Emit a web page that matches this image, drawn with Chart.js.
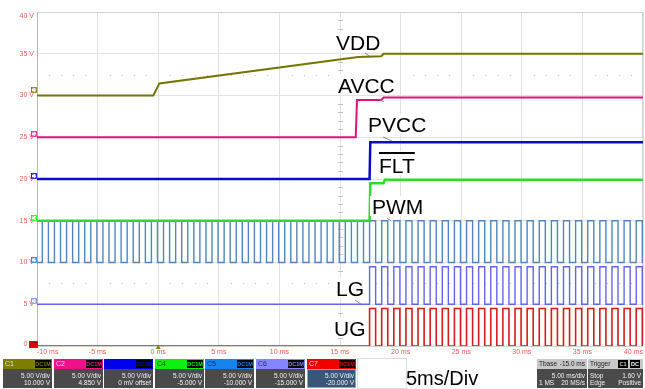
<!DOCTYPE html>
<html>
<head>
<meta charset="utf-8">
<script src="https://cdn.jsdelivr.net/npm/chart.js@4/dist/chart.umd.min.js"></script>
<style>
  html, body { margin: 0; padding: 0; background: #ffffff; overflow: hidden; }
  #wrap { position: relative; width: 645px; height: 389px; }
</style>
</head>
<body>
<div id="wrap"><canvas id="scope" width="645" height="389"></canvas></div>
<script>
// ---- axes ----
const timeRangeMs = [-10, 40];
const voltRange = [0, 40];
const timeTickStepMs = 5;
const voltTickStep = 5;

// ---- supply rails (time in ms, level in V) ----
const vddTimeMs  = [-10, -0.4, 0.1, 16.5, 18.4, 18.6, 40];
const vddVolts   = [30, 30, 31.45, 34.6, 34.7, 35.0, 35.0];

const avccTimeMs = [-10, 16.3, 16.4, 18.4, 18.6, 40];
const avccVolts  = [25, 25, 29.45, 29.45, 29.75, 29.75];

const pvccTimeMs = [-10, 17.44, 17.5, 40];
const pvccVolts  = [20, 20, 24.4, 24.4];

const fltTimeMs  = [-10, 17.44, 17.5, 18.6, 18.7, 40];
const fltVolts   = [15, 15, 19.5, 19.5, 19.9, 19.9];

// ---- PWM edge times (ms): rising, falling, rising, ... ----
const pwmEdgesMs = [
  -9.56, -9.06, -8.56, -8.06, -7.56, -7.06, -6.56, -6.06, -5.56, -5.06,
  -4.56, -4.06, -3.56, -3.06, -2.56, -2.06, -1.56, -1.06, -0.56, -0.06,
   0.44,  0.94,  1.44,  1.94,  2.44,  2.94,  3.44,  3.94,  4.44,  4.94,
   5.44,  5.94,  6.44,  6.94,  7.44,  7.94,  8.44,  8.94,  9.44,  9.94,
  10.44, 10.94, 11.44, 11.94, 12.44, 12.94, 13.44, 13.94, 14.44, 14.94,
  15.44, 15.94, 16.44, 16.94, 17.44, 17.94, 18.44, 18.94, 19.44, 19.94,
  20.44, 20.94, 21.44, 21.94, 22.44, 22.94, 23.44, 23.94, 24.44, 24.94,
  25.44, 25.94, 26.44, 26.94, 27.44, 27.94, 28.44, 28.94, 29.44, 29.94,
  30.44, 30.94, 31.44, 31.94, 32.44, 32.94, 33.44, 33.94, 34.44, 34.94,
  35.44, 35.94, 36.44, 36.94, 37.44, 37.94, 38.44, 38.94, 39.44, 39.94
];
// [low, high] levels in V
const pwmLevels = [10, 15];
const lgLevels  = [5, 9.5];
const ugLevels  = [0, 4.5];
// gate drivers start switching here (ms)
const gateStartMs = 17.44;

// ---- channel readouts ----
const chNames    = ['C1', 'C2', 'C3', 'C4', 'C5', 'C6', 'C7'];
const chScale    = ['5.00 V/div', '5.00 V/div', '5.00 V/div', '5.00 V/div', '5.00 V/div', '5.00 V/div', '5.00 V/div'];
const chOffset   = ['10.000 V', '4.850 V', '0 mV offset', '-5.000 V', '-10.000 V', '-15.000 V', '-20.000 V'];
const chMarkerV  = [30.3, 25, 20, 15, 10, 5, 0];
const chColors   = ['#7d7d00', '#f0108c', '#0000f0', '#10f010', '#1684f0', '#8585ff', '#f00000'];

// ---- trace colours ----
const C = {
  vdd: '#757500', avcc: '#e2127a', pvcc: '#0c0cc4', flt: '#2bdc2b',
  pwm: '#4f86c0', lg: '#6464f2', ug: '#d61c1c'
};

function pairs(ts, vs) { return ts.map((t, i) => ({ x: t, y: vs[i] })); }

// step trace from edge list: starts low, toggles at each edge from startMs on
function squareTrace(edges, levels, startMs) {
  const [lo, hi] = levels;
  const pts = [{ x: timeRangeMs[0], y: lo }];
  let level = lo;
  edges.forEach((t, i) => {
    if (t < startMs - 1e-6) return;
    const next = (i % 2 === 0) ? hi : lo;
    pts.push({ x: t, y: level });
    pts.push({ x: t, y: next });
    level = next;
  });
  pts.push({ x: timeRangeMs[1], y: level });
  return pts;
}

const FONT = '"Liberation Sans", Arial, sans-serif';

function line(data, color, width) {
  return { data, borderColor: color, borderWidth: width, pointRadius: 0, tension: 0, fill: false, borderJoinStyle: 'miter', borderCapStyle: 'butt' };
}

// signal names drawn beside traces; anchor is (ms, V) of text baseline start
const traceLabels = [
  { text: 'VDD',  t: 14.67, v: 35.45, lead: [29, 3, 35, 7] },
  { text: 'AVCC', t: 14.83, v: 30.30, lead: [40, 6, 46, 9] },
  { text: 'PVCC', t: 17.31, v: 25.63, lead: [15, 5, 24, 9] },
  { text: 'FLT',  t: 18.22, v: 20.72, over: true },
  { text: 'PWM',  t: 17.64, v: 15.81, lead: [15, 4, 19, 7] },
  { text: 'LG',   t: 14.67, v: 5.99,  lead: [19, 4, 26, 9] },
  { text: 'UG',   t: 14.50, v: 1.20 }
];

const scopeDecor = {
  id: 'scopeDecor',
  beforeDatasetsDraw(chart) {
    const { ctx, chartArea: a, scales: { x, y } } = chart;
    ctx.save();
    // frame
    ctx.strokeStyle = '#d2d2d2';
    ctx.lineWidth = 1;
    ctx.strokeRect(a.left + 0.5, a.top + 0.5, a.right - a.left - 1, a.bottom - a.top);
    ctx.strokeStyle = '#b8b8b8';
    ctx.beginPath(); ctx.moveTo(a.left + 0.5, a.top); ctx.lineTo(a.left + 0.5, a.bottom); ctx.stroke();
    // ruler dots
    ctx.fillStyle = '#c4c4c4';
    [32.5, 7.5].forEach(v => {
      const py = Math.round(y.getPixelForValue(v));
      for (let t = -9; t < 40; t++) {
        if (t % 5 === 0) continue;
        ctx.fillRect(Math.round(x.getPixelForValue(t)), py, 1, 1);
      }
    });
    // centre time ruler with minor marks
    const cx = Math.round(x.getPixelForValue(15));
    for (let v = 1; v < 40; v++) {
      if (v % 5 === 0) continue;
      ctx.fillRect(cx - 2, Math.round(y.getPixelForValue(v)), 5, 1);
    }
    ctx.restore();
  },
  afterDatasetsDraw(chart) {
    const { ctx, chartArea: a, scales: { x, y } } = chart;
    ctx.save();
    // tick labels
    ctx.fillStyle = '#f25a5a';
    ctx.font = '7px ' + FONT;
    ctx.textBaseline = 'middle';
    ctx.textAlign = 'right';
    y.ticks.forEach(tk => {
      let py = y.getPixelForValue(tk.value);
      py = Math.min(Math.max(py, a.top + 4.5), a.bottom - 2);
      ctx.fillText(tk.value + ' V', a.left - 3, py);
    });
    x.ticks.forEach((tk, i) => {
      const px = x.getPixelForValue(tk.value);
      ctx.textAlign = i === 0 ? 'left' : (i === x.ticks.length - 1 ? 'right' : 'center');
      ctx.fillText(tk.value + ' ms', px, a.bottom + 6);
    });

    // trigger point marker
    const tx = x.getPixelForValue(0);
    ctx.fillStyle = '#7d7d00';
    ctx.beginPath();
    ctx.moveTo(tx - 2.5, a.bottom + 3); ctx.lineTo(tx + 2.5, a.bottom + 3); ctx.lineTo(tx, a.bottom - 1); ctx.closePath(); ctx.fill();

    // channel offset markers
    ctx.font = '5px ' + FONT;
    ctx.textAlign = 'center';
    chMarkerV.forEach((v, i) => {
      const py = Math.round(y.getPixelForValue(v));
      if (i === 6) {
        ctx.fillStyle = chColors[i];
        ctx.fillRect(a.left - 8, py - 5, 9, 7);
        ctx.fillStyle = '#300000';
        ctx.fillText(chNames[i], a.left - 3.5, py - 1.5);
      } else {
        ctx.fillStyle = '#ffffff';
        ctx.fillRect(a.left - 6, py - 6, 6, 6);
        ctx.strokeStyle = chColors[i];
        ctx.lineWidth = 0.8;
        ctx.strokeRect(a.left - 5.5, py - 5.5, 5, 5);
        ctx.fillStyle = chColors[i];
        ctx.fillText(chNames[i], a.left - 3, py - 2.5);
      }
    });

    // signal names
    ctx.font = '21px ' + FONT;
    ctx.textAlign = 'left';
    ctx.textBaseline = 'alphabetic';
    traceLabels.forEach(l => {
      const px = Math.round(x.getPixelForValue(l.t));
      const py = Math.round(y.getPixelForValue(l.v));
      const w = ctx.measureText(l.text).width;
      ctx.fillStyle = '#ffffff';
      ctx.fillRect(px - 2, py - (l.over ? 22 : 18), w + 4, (l.over ? 24 : 20));
      ctx.fillStyle = '#000000';
      ctx.fillText(l.text, px, py);
      if (l.over) ctx.fillRect(px, py - 21, w, 2);
      if (l.lead) {
        ctx.strokeStyle = '#707070';
        ctx.lineWidth = 0.8;
        ctx.beginPath();
        ctx.moveTo(px + l.lead[0], py + l.lead[1]);
        ctx.lineTo(px + l.lead[2], py + l.lead[3]);
        ctx.stroke();
      }
    });
    ctx.restore();
  },
  afterDraw(chart) {
    const { ctx } = chart;
    ctx.save();
    const top = 359, headH = 10, bodyBottom = 388;
    // channel descriptor boxes
    for (let i = 0; i < 7; i++) {
      const x0 = 3 + Math.round(i * 50.6), w = 49;
      ctx.fillStyle = chColors[i];
      ctx.fillRect(x0, top, w, headH);
      ctx.fillStyle = i === 6 ? '#3a5677' : '#4a4a4a';
      ctx.fillRect(x0, top + headH, w, bodyBottom - top - headH);
      if (i === 6) { ctx.strokeStyle = '#8aa8cc'; ctx.lineWidth = 1; ctx.strokeRect(x0 + 0.5, top + headH + 0.5, w - 1, bodyBottom - top - headH - 1); }
      // name
      ctx.font = '7px ' + FONT;
      ctx.textBaseline = 'middle';
      ctx.textAlign = 'left';
      ctx.fillStyle = ['#e8e8c0', '#ffd6ec', '#101070', '#0c500c', '#0c2c64', '#2a2a6a', '#ffe0e0'][i];
      ctx.fillText(chNames[i], x0 + 2, top + 5);
      // coupling badge
      ctx.fillStyle = '#000000';
      ctx.fillRect(x0 + w - 17, top + 1, 16, headH - 2);
      ctx.fillStyle = chColors[i];
      ctx.font = 'bold 5.5px ' + FONT;
      ctx.textAlign = 'center';
      ctx.fillText('DC1M', x0 + w - 9, top + 5);
      // readout
      ctx.fillStyle = '#f2f2f2';
      ctx.font = '6.5px ' + FONT;
      ctx.textAlign = 'right';
      ctx.textBaseline = 'alphabetic';
      ctx.fillText(chScale[i], x0 + w - 2, 378);
      ctx.fillText(chOffset[i], x0 + w - 2, 385);
    }
    // empty dotted slot
    ctx.strokeStyle = '#b8b8b8';
    ctx.setLineDash([1, 1]);
    ctx.lineWidth = 1;
    ctx.strokeRect(357.5, 358.5, 49, 30);
    ctx.setLineDash([]);
    // sweep caption
    ctx.fillStyle = '#000000';
    ctx.font = '20px ' + FONT;
    ctx.textAlign = 'left';
    ctx.fillText('5ms/Div', 406, 385);

    // timebase box
    const tb = 537, tw = 50, tr = 588, trw = 55;
    ctx.fillStyle = '#c8c8c8';
    ctx.fillRect(tb, top, tw, headH);
    ctx.fillRect(tr, top, trw, headH);
    ctx.fillStyle = '#4a4a4a';
    ctx.fillRect(tb, top + headH, tw, bodyBottom - top - headH);
    ctx.fillRect(tr, top + headH, trw, bodyBottom - top - headH);
    ctx.font = '6.5px ' + FONT;
    ctx.textBaseline = 'middle';
    ctx.fillStyle = '#202020';
    ctx.textAlign = 'left';
    ctx.fillText('Tbase', tb + 2, top + 5);
    ctx.textAlign = 'right';
    ctx.fillText('-15.0 ms', tb + tw - 2, top + 5);
    ctx.textAlign = 'left';
    ctx.fillText('Trigger', tr + 2, top + 5);
    ctx.fillStyle = '#000000';
    ctx.fillRect(tr + 30, top + 1, 10, headH - 2);
    ctx.fillRect(tr + 42, top + 1, 10, headH - 2);
    ctx.font = 'bold 5.5px ' + FONT;
    ctx.textAlign = 'center';
    ctx.fillStyle = '#d0d0a0';
    ctx.fillText('C1', tr + 35, top + 5);
    ctx.fillStyle = '#ffffff';
    ctx.fillText('DC', tr + 47, top + 5);
    ctx.font = '6.5px ' + FONT;
    ctx.textBaseline = 'alphabetic';
    ctx.fillStyle = '#f2f2f2';
    ctx.textAlign = 'right';
    ctx.fillText('5.00 ms/div', tb + tw - 2, 378);
    ctx.fillText('20 MS/s', tb + tw - 2, 385);
    ctx.fillText('1.60 V', tr + trw - 2, 378);
    ctx.fillText('Positive', tr + trw - 2, 385);
    ctx.textAlign = 'left';
    ctx.fillText('1 MS', tb + 2, 385);
    ctx.fillText('Stop', tr + 2, 378);
    ctx.fillText('Edge', tr + 2, 385);
    ctx.restore();
  }
};

new Chart(document.getElementById('scope'), {
  type: 'line',
  data: {
    datasets: [
      line(pairs(vddTimeMs, vddVolts), C.vdd, 2),
      line(pairs(avccTimeMs, avccVolts), C.avcc, 2),
      line(pairs(pvccTimeMs, pvccVolts), C.pvcc, 2.5),
      line(pairs(fltTimeMs, fltVolts), C.flt, 2.5),
      line(squareTrace(pwmEdgesMs, pwmLevels, timeRangeMs[0]), C.pwm, 1.4),
      line(squareTrace(pwmEdgesMs, lgLevels, gateStartMs), C.lg, 1.4),
      line(squareTrace(pwmEdgesMs, ugLevels, gateStartMs), C.ug, 1.6)
    ]
  },
  options: {
    responsive: false,
    animation: false,
    events: [],
    layout: { padding: { left: 0, top: 12, right: 2, bottom: 29 } },
    plugins: { legend: { display: false }, tooltip: { enabled: false } },
    scales: {
      x: {
        type: 'linear', min: timeRangeMs[0], max: timeRangeMs[1],
        ticks: { display: false, stepSize: timeTickStepMs },
        grid: { color: '#e2e2e2', lineWidth: 1, drawTicks: false },
        border: { display: false },
        afterFit(s) { s.height = 14; s.paddingLeft = 0; s.paddingRight = 0; }
      },
      y: {
        type: 'linear', min: voltRange[0], max: voltRange[1],
        ticks: { display: false, stepSize: voltTickStep },
        grid: { color: '#e2e2e2', lineWidth: 1, drawTicks: false },
        border: { display: false },
        afterFit(s) { s.width = 37; }
      }
    }
  },
  plugins: [scopeDecor]
});
</script>
</body>
</html>
